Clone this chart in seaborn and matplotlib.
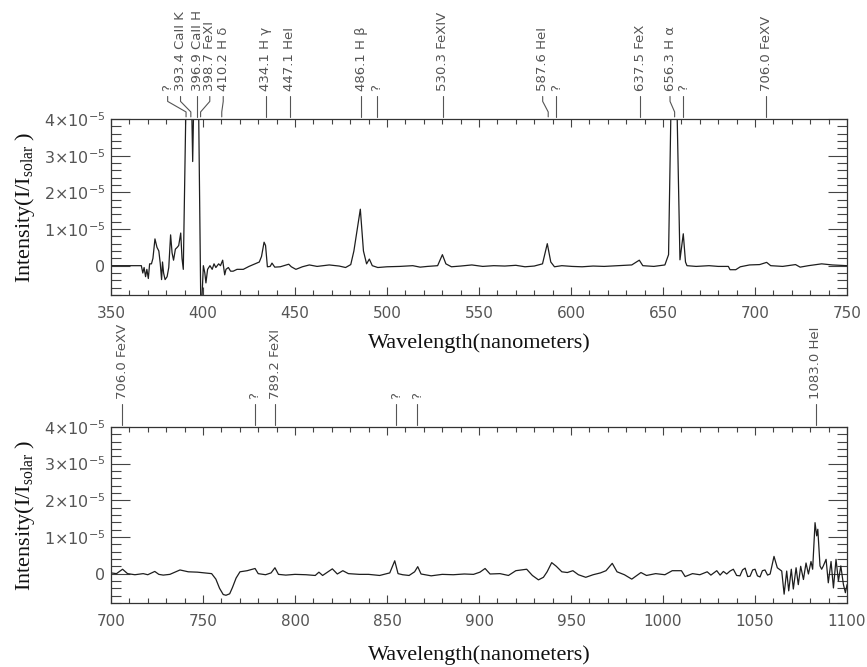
import numpy as np
import matplotlib
matplotlib.use("Agg")
import matplotlib.pyplot as plt
from matplotlib.ticker import MultipleLocator, FuncFormatter
import seaborn as sns

# spectrum values, flux in units of 1e-5 I_solar
top_wl = [350.0, 366.5, 367.3, 368.0, 368.8, 369.5, 370.3, 371.0, 372.0, 372.8,
          373.9, 375.0, 376.0, 376.8, 377.5, 378.0, 378.6, 379.4, 380.5, 381.4,
          382.4, 383.2, 384.0, 385.0, 386.0, 386.8, 387.9, 388.6, 389.3, 392.2,
          394.4, 396.6, 398.9, 400.2, 401.0, 401.6, 402.5, 403.8, 405.0, 406.0,
          407.0, 408.5, 409.5, 410.7, 411.8, 412.5, 413.8, 415.0, 416.4, 418.5,
          421.9, 425.0, 427.3, 430.6, 431.8, 433.2, 434.0, 435.0, 436.5, 437.5,
          439.0, 442.0, 446.6, 448.0, 450.5, 454.0, 457.8, 462.0, 468.6, 474.0,
          477.5, 480.3, 482.0, 485.5, 487.2, 488.9, 490.4, 492.0, 495.0, 500.0,
          507.0, 514.0, 518.0, 522.0, 527.5, 530.1, 532.0, 535.0, 540.0, 546.1,
          552.0, 558.0, 564.0, 570.0, 575.0, 580.0, 584.5, 587.1, 589.0, 591.0,
          595.0, 600.5, 606.0, 612.0, 618.0, 625.0, 633.0, 637.1, 639.0, 645.0,
          651.0, 653.0, 655.8, 659.2, 661.0, 662.2, 663.0, 668.0, 675.0, 680.0,
          685.5, 686.4, 689.5, 692.0, 697.0, 702.5, 706.3, 708.5, 715.0, 722.0,
          724.5, 729.0, 736.2, 742.0, 749.0, 750.0]
top_flux = [0.0, 0.0, -0.2, -0.05, -0.3, -0.1, -0.35, 0.05, 0.05, 0.2,
            0.73, 0.5, 0.4, 0.05, -0.38, 0.1, -0.2, -0.38, -0.3, -0.05,
            0.84, 0.35, 0.15, 0.45, 0.5, 0.55, 0.89, 0.2, -0.1, 9.0,
            2.84, 9.0, -1.5, 0.0, -0.2, -0.47, -0.1, 0.0, -0.1, 0.05,
            -0.05, 0.05, 0.0, 0.15, -0.25, -0.1, -0.05, -0.15, -0.15, -0.1,
            -0.1, -0.02, 0.03, 0.1, 0.25, 0.64, 0.55, -0.03, -0.02, 0.07,
            -0.04, -0.03, 0.04, -0.03, -0.1, -0.03, 0.02, -0.02, 0.02, -0.01,
            -0.05, 0.03, 0.4, 1.54, 0.4, 0.05, 0.18, 0.0, -0.05, -0.03,
            -0.02, 0.0, -0.04, -0.02, 0.0, 0.3, 0.05, -0.03, -0.01, 0.02,
            -0.02, 0.0, -0.01, 0.01, -0.03, -0.01, 0.05, 0.6, 0.1, -0.03,
            0.0, -0.02, -0.03, -0.01, -0.02, 0.0, 0.02, 0.15, 0.0, -0.02,
            0.02, 0.3, 8.9, 0.16, 0.87, 0.1, 0.0, -0.02, 0.0, -0.02,
            -0.02, -0.11, -0.11, -0.03, 0.02, 0.03, 0.09, 0.0, -0.02, 0.03,
            -0.04, 0.0, 0.05, 0.02, 0.0, 0.0]

bot_wl = [700.0, 703.0, 706.3, 709.0, 713.0, 717.5, 720.0, 723.8, 726.0, 728.4,
          732.0, 737.5, 742.0, 747.0, 751.0, 754.7, 757.0, 759.0, 761.0, 762.5,
          764.5, 766.0, 768.0, 770.1, 774.0, 778.3, 780.0, 784.0, 787.0, 789.1,
          791.0, 795.0, 800.0, 806.0, 811.0, 813.0, 815.0, 820.3, 823.0, 826.0,
          829.0, 835.0, 840.0, 846.0, 851.5, 853.0, 854.2, 856.0, 858.5, 862.0,
          865.0, 866.7, 868.5, 874.0, 880.0, 886.0, 892.0, 897.0, 900.5, 903.3,
          906.0, 911.4, 916.0, 920.0, 925.9, 929.0, 932.3, 935.0, 937.0, 939.5,
          942.0, 945.0, 948.0, 951.0, 954.0, 958.0, 962.0, 966.0, 969.0, 972.4,
          975.0, 979.0, 983.0, 988.0, 991.0, 996.0, 1001.0, 1005.0, 1010.0, 1012.0,
          1016.0, 1020.0, 1024.0, 1026.0, 1029.2, 1031.0, 1032.8, 1034.6, 1036.4, 1038.2,
          1040.0, 1041.8, 1043.2, 1044.6, 1046.0, 1047.3, 1048.7, 1050.0, 1051.3, 1052.7,
          1054.0, 1055.4, 1056.8, 1058.2, 1060.3, 1062.1, 1064.5, 1065.8, 1067.2, 1068.3,
          1069.7, 1070.8, 1072.3, 1073.5, 1074.8, 1076.3, 1077.7, 1079.0, 1080.4, 1081.3,
          1082.6, 1083.5, 1084.1, 1085.3, 1086.2, 1087.1, 1088.6, 1089.8, 1091.3, 1092.6,
          1094.0, 1095.3, 1096.6, 1098.0, 1099.1, 1100.0]
bot_flux = [0.02, 0.0, 0.12, 0.0, -0.03, 0.0, -0.03, 0.06, -0.02, -0.04,
            -0.02, 0.1, 0.05, 0.04, 0.02, 0.0, -0.15, -0.4, -0.57, -0.59,
            -0.55, -0.38, -0.12, 0.05, 0.08, 0.14, 0.0, -0.03, 0.02, 0.16,
            -0.02, -0.04, -0.02, -0.03, -0.05, 0.04, -0.05, 0.13, -0.01, 0.08,
            0.0, -0.02, -0.02, -0.05, 0.02, 0.2, 0.35, 0.0, -0.03, -0.05,
            0.05, 0.19, -0.01, -0.06, -0.02, -0.03, -0.01, -0.02, 0.04, 0.14,
            -0.01, 0.0, -0.05, 0.08, 0.12, -0.05, -0.17, -0.1, 0.05, 0.3,
            0.2, 0.05, 0.03, 0.08, -0.03, -0.1, -0.03, 0.02, 0.08, 0.28,
            0.05, -0.03, -0.15, 0.03, -0.05, 0.0, -0.03, 0.08, 0.08, -0.08,
            0.0, -0.03, 0.05, -0.04, 0.08, -0.04, 0.06, -0.01, 0.07, 0.12,
            -0.05, -0.06, 0.1, 0.15, -0.08, -0.07, 0.1, 0.12, -0.06, -0.09,
            0.08, 0.1, -0.04, -0.01, 0.47, 0.16, 0.07, -0.56, 0.07, -0.47,
            0.12, -0.42, 0.16, -0.3, 0.2, -0.16, 0.29, -0.01, 0.33, 0.12,
            1.39, 1.03, 1.21, 0.21, 0.12, 0.21, 0.39, -0.25, 0.33, -0.39,
            0.39, -0.2, 0.21, -0.29, -0.52, -0.3]

# line identifications
top_line_wl = [390.8, 393.4, 396.9, 398.7, 410.2, 434.1, 447.1, 486.1,
               494.5, 530.3, 587.6, 592.0, 637.5, 656.3, 661.0, 706.0]
top_line_text = ["?", "393.4 CaII K", "396.9 CaII H", "398.7 FeXI", "410.2 H δ",
                 "434.1 H γ", "447.1 HeI", "486.1 H β", "?", "530.3 FeXIV",
                 "587.6 HeI", "?", "637.5 FeX", "656.3 H α", "?", "706.0 FeXV"]
# where a crowded label sits, relative to its line (nm)
top_label_shift = [-10.0, -5.6, 0, 5.0, 0.8, 0, 0, 0, 0, 0, -3.0, 0, 0, -2.5, 0, 0]

bot_line_wl = [706.0, 778.0, 789.2, 855.0, 866.5, 1083.0]
bot_line_text = ["706.0 FeXV", "?", "789.2 FeXI", "?", "?", "1083.0 HeI"]
bot_label_shift = [0, 0, 0, 0, 0, 0]

sns.set_style("ticks")
plt.rcParams["font.family"] = ["DejaVu Sans"]
plt.rcParams["mathtext.fontset"] = "custom"
plt.rcParams["mathtext.rm"] = "Liberation Serif"
plt.rcParams["mathtext.sf"] = "DejaVu Sans"

TXT = "#555555"
LINE = "#1e1e1e"


def y_fmt(v, pos):
    n = int(round(v / 1e-5))
    if n == 0:
        return "0"
    return r"$\mathsf{%d{\times}10^{-5}}$" % n


def add_labels(ax, wls, texts, shifts):
    trans = ax.get_xaxis_transform()
    for wl, txt, dx in zip(wls, texts, shifts):
        lx = wl + dx
        ax.plot([lx, lx, wl, wl], [1.128, 1.10, 1.04, 1.012], transform=trans,
                clip_on=False, color=TXT, lw=0.8)
        ax.text(lx, 1.16, txt, rotation=90, ha="center", va="bottom",
                transform=trans, fontsize=9.5, color=TXT)


def style_axes(ax, xmin, xmax, xlabel_y):
    ax.set_xlim(xmin, xmax)
    ax.set_ylim(-0.8e-5, 4e-5)
    ax.xaxis.set_major_locator(MultipleLocator(50))
    ax.xaxis.set_minor_locator(MultipleLocator(10))
    ax.yaxis.set_major_locator(MultipleLocator(1e-5))
    ax.yaxis.set_minor_locator(MultipleLocator(0.2e-5))
    ax.yaxis.set_major_formatter(FuncFormatter(y_fmt))
    ax.tick_params(which="both", direction="in", top=True, right=True,
                   color="#444444", labelcolor=TXT, width=0.8)
    ax.tick_params(axis="x", which="major", length=6, pad=8, labelsize=11)
    ax.tick_params(axis="x", which="minor", length=3.5)
    ax.tick_params(axis="y", which="major", length=14, pad=4, labelsize=11.5)
    ax.tick_params(axis="y", which="minor", length=7)
    for s in ax.spines.values():
        s.set_color("#333333")
        s.set_linewidth(0.9)
    ax.set_xlabel("Wavelength(nanometers)", fontfamily="Liberation Serif",
                  fontsize=16, color="#111111")
    ax.set_ylabel("Intensity(I/I$_{\\mathrm{solar}}$ )", fontfamily="Liberation Serif",
                  fontsize=16, color="#111111")
    ax.xaxis.set_label_coords(0.5, xlabel_y)
    ax.yaxis.set_label_coords(-0.10, 0.5)


fig = plt.figure(figsize=(8.67, 6.67), dpi=100)
ax_top = fig.add_axes([0.128, 0.5577, 0.849, 0.2639])
ax_bot = fig.add_axes([0.128, 0.0960, 0.849, 0.2639])

sns.lineplot(x=top_wl, y=np.array(top_flux) * 1e-5, ax=ax_top, color=LINE,
             linewidth=0.9, sort=False, estimator=None)
sns.lineplot(x=bot_wl, y=np.array(bot_flux) * 1e-5, ax=ax_bot, color=LINE,
             linewidth=0.9, sort=False, estimator=None)

style_axes(ax_top, 350, 750, -0.216)
style_axes(ax_bot, 700, 1100, -0.239)

add_labels(ax_top, top_line_wl, top_line_text, top_label_shift)
add_labels(ax_bot, bot_line_wl, bot_line_text, bot_label_shift)

fig.savefig("out.png", dpi=100)
